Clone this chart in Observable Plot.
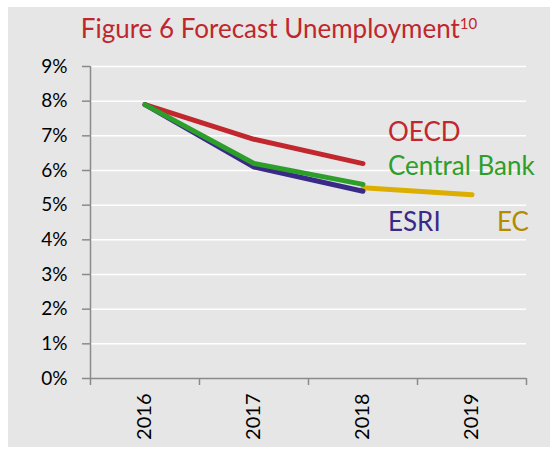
<!DOCTYPE html>
<html>
<head>
<meta charset="utf-8">
<script src="https://cdn.jsdelivr.net/npm/d3@7"></script>
<script src="https://cdn.jsdelivr.net/npm/@observablehq/plot@0.6"></script>
<style>
  html, body { margin: 0; padding: 0; background: #ffffff; }
  #panel { position: absolute; left: 8px; top: 7px; width: 542px; height: 440px; background: #e6e6e6; overflow: hidden; }
  #title { height: 48px; text-align: center; font-family: Lato, "Open Sans", sans-serif; font-size: 26px; color: #c0272d; line-height: 42px; white-space: nowrap; }
  #title sup { font-size: 15px; line-height: 0; vertical-align: 0.6em; }
  #chart svg { display: block; }
</style>
</head>
<body>
<div id="panel">
  <div id="title">Figure 6 Forecast Unemployment<sup>10</sup></div>
  <div id="chart"></div>
</div>
<script>
const years = [2016, 2017, 2018, 2019];
const seriesNames = ["OECD", "EC", "ESRI", "Central Bank"];
const oecd = [7.9, 6.9, 6.2, null];
const ec = [null, null, 5.5, 5.3];
const esri = [7.9, 6.1, 5.4, null];
const centralBank = [7.9, 6.2, 5.6, null];
const seriesColors = ["#c1272d", "#dcae00", "#3a2a88", "#2e9e2a"];
const labelColors = ["#c1272d", "#b38a00", "#3a2a88", "#2e9e2a"];
const yTicks = [0, 1, 2, 3, 4, 5, 6, 7, 8, 9];

// label anchors (series name, year, value)
const labelNames = ["OECD", "Central Bank", "ESRI", "EC"];
const labelYears = [2018, 2018, 2018, 2019];
const labelValues = [7.1, 6.1, 4.5, 4.5];

const seriesValues = [oecd, ec, esri, centralBank];
const rows = [];
seriesNames.forEach((name, i) => {
  years.forEach((yr, j) => {
    const v = seriesValues[i][j];
    if (v != null) rows.push({series: name, year: yr, value: v});
  });
});
const labels = labelNames.map((n, i) => ({series: n, year: labelYears[i], value: labelValues[i]}));
const boundaries = [years[0] - 0.5, ...years.map(y => y + 0.5)];
const colorOf = n => labelColors[seriesNames.indexOf(n)];

const chart = Plot.plot({
  width: 542,
  height: 392,
  marginTop: 11,
  marginBottom: 69,
  marginLeft: 82,
  marginRight: 24,
  style: {background: "transparent", fontFamily: "Lato, 'Open Sans', sans-serif", color: "#000"},
  x: {type: "linear", domain: [boundaries[0], boundaries[boundaries.length - 1]]},
  y: {domain: [0, 9]},
  color: {domain: seriesNames, range: seriesColors},
  marks: [
    Plot.ruleY(yTicks.slice(1), {stroke: "#ffffff", strokeWidth: 1.5, x1: boundaries[0], x2: boundaries[boundaries.length - 1]}),
    Plot.line(rows, {x: "year", y: "value", z: "series", stroke: "series", strokeWidth: 5, strokeLinecap: "round", strokeLinejoin: "round"}),
    Plot.ruleX([boundaries[0]], {y1: 0, y2: 9, stroke: "#8a8a8a", strokeWidth: 1.5}),
    Plot.ruleY([0], {x1: boundaries[0], x2: boundaries[boundaries.length - 1], stroke: "#8a8a8a", strokeWidth: 1.5}),
    Plot.axisY(yTicks, {tickSize: 8, tickPadding: 15, tickFormat: d => d + "%", fontSize: 19, stroke: "#8a8a8a", strokeWidth: 1.5, label: null}),
    Plot.axisX(boundaries, {tickSize: 7, tickFormat: () => "", stroke: "#8a8a8a", strokeWidth: 1.5, label: null}),
    Plot.axisX(years, {tickSize: 0, tickPadding: 15, tickRotate: -90, tickFormat: d => String(d), fontSize: 20, label: null}),
    Plot.text(labels, {x: "year", y: "value", text: "series", dx: 25, textAnchor: "start", fontSize: 26, fill: d => colorOf(d.series)})
  ]
});
document.getElementById("chart").appendChild(chart);
</script>
</body>
</html>
